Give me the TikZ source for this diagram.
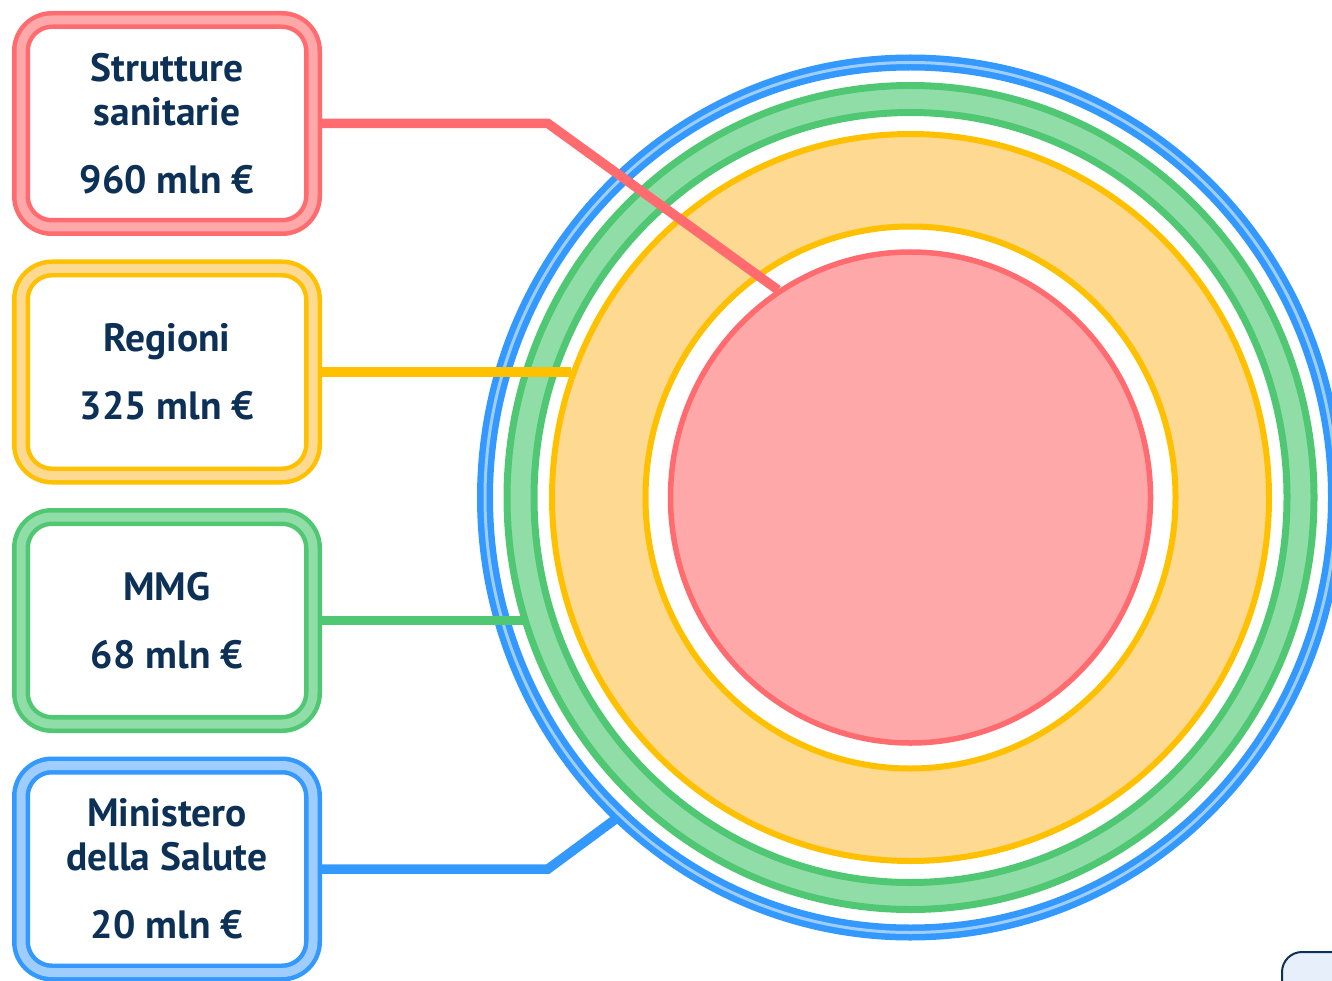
\documentclass[tikz,border=0pt]{standalone}
\usepackage{fontspec}
\setmainfont{PT Sans}
\usepackage{tikz}
\definecolor{rosso}{HTML}{FF6B6E}
\definecolor{rossochiaro}{HTML}{FFA8AA}
\definecolor{giallo}{HTML}{FFC000}
\definecolor{giallochiaro}{HTML}{FDD992}
\definecolor{verde}{HTML}{50C873}
\definecolor{verdechiaro}{HTML}{90DDA8}
\definecolor{blu}{HTML}{3399FF}
\definecolor{bluchiaro}{HTML}{A0CDFF}
\definecolor{testo}{HTML}{0D3057}
\definecolor{legendafill}{HTML}{E6EFFA}

\begin{document}
\begin{tikzpicture}[x=1pt,y=-1pt,
    box/.style={draw=#1, line width=4.5pt, double=#1chiaro, double distance=9pt,
      fill=white, rounded corners=31pt, outer sep=0pt,
      minimum width=292pt, minimum height=207pt, align=center, text=testo,
      font=\fontsize{39.5}{44}\selectfont\bfseries},
    linea/.style={draw=#1, line width=9.5pt, shorten <=9pt}]
    \useasboundingbox (0,0) rectangle (1332,981);
    \coordinate (centro) at (910.5,497.5);

    \draw[blu, line width=16pt] (centro) ellipse [x radius=425.5pt, y radius=435pt];
    \draw[bluchiaro, line width=3pt] (centro) ellipse [x radius=425.5pt, y radius=435pt];
    \fill[verdechiaro, even odd rule] (centro) ellipse [x radius=403.5pt, y radius=412pt]
      (centro) ellipse [x radius=376.5pt, y radius=385pt];
    \draw[verde, line width=7pt] (centro) ellipse [x radius=403.5pt, y radius=412pt];
    \draw[verde, line width=7pt] (centro) ellipse [x radius=376.5pt, y radius=385pt];
    \fill[giallochiaro, even odd rule] (centro) ellipse [x radius=358.5pt, y radius=363.5pt]
      (centro) ellipse [x radius=265pt, y radius=271pt];
    \draw[giallo, line width=6pt] (centro) ellipse [x radius=358.5pt, y radius=363.5pt];
    \draw[giallo, line width=6pt] (centro) ellipse [x radius=265pt, y radius=271pt];
    \draw[rosso, fill=rossochiaro, line width=5.5pt] (centro) ellipse [x radius=240pt, y radius=245.5pt];

    \draw node at (167,123.5)[name=strutture, box=rosso]{Strutture\\sanitarie\\[24pt]960 mln €};
    \draw node at (167,372)[name=regioni, box=giallo]{Regioni\\[24pt]325 mln €};
    \draw node at (167,620.5)[name=mmg, box=verde]{MMG\\[24pt]68 mln €};
    \draw node at (167,869)[name=ministero, box=blu]{Ministero\\della Salute\\[24pt]20 mln €};

    \coordinate (piegaS) at (548,123.5);
    \coordinate (fineS) at (778,290);
    \draw[linea=rosso] (strutture.east) -- (piegaS) -- (fineS);
    \coordinate (fineR) at (571,372);
    \draw[linea=giallo] (regioni.east) -- (fineR);
    \coordinate (fineM) at (523,620.5);
    \draw[linea=verde] (mmg.east) -- (fineM);
    \coordinate (piegaMin) at (548,869);
    \coordinate (fineMin) at (617,818);
    \draw[linea=blu] (ministero.east) -- (piegaMin) -- (fineMin);

    \draw node at (1281,951)[name=legenda, anchor=north west, draw=testo, line width=2pt,
      fill=legendafill, rounded corners=20pt, minimum width=120pt, minimum height=80pt]{};
\end{tikzpicture}
\end{document}
